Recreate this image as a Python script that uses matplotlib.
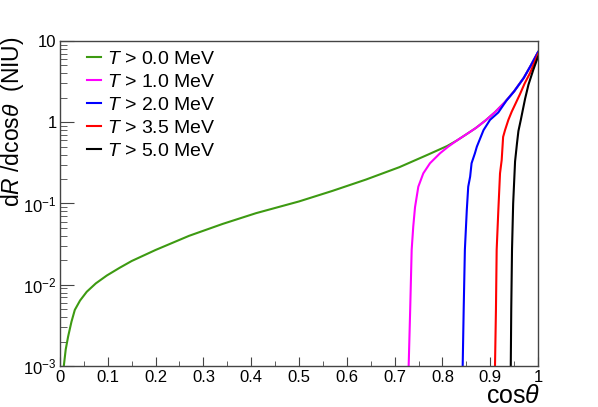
import numpy as np
import matplotlib
matplotlib.use('Agg')
import matplotlib.pyplot as plt
from matplotlib.ticker import LogLocator, FixedLocator, MultipleLocator, FuncFormatter

plt.rcParams['font.family'] = ['Liberation Sans', 'DejaVu Sans']
plt.rcParams['mathtext.fontset'] = 'custom'
plt.rcParams['mathtext.rm'] = 'Liberation Sans'
plt.rcParams['mathtext.it'] = 'Liberation Sans:italic'

# values (cos theta, dR/dcos theta)
green_x = [0.008, 0.012, 0.017, 0.024, 0.031, 0.042, 0.056, 0.075, 0.098, 0.125, 0.15,
           0.2, 0.27, 0.34, 0.41, 0.5, 0.57, 0.64, 0.71, 0.77, 0.81, 0.83, 0.85, 0.87,
           0.89, 0.91, 0.93, 0.95, 0.97, 0.985, 1.0]
green_y = [1e-3, 1.6e-3, 2.3e-3, 3.5e-3, 4.9e-3, 6.4e-3, 8.2e-3, 0.0104, 0.013, 0.0162,
           0.0196, 0.0268, 0.040, 0.056, 0.076, 0.106, 0.143, 0.197, 0.28, 0.40, 0.51,
           0.595, 0.71, 0.85, 1.05, 1.33, 1.75, 2.4, 3.5, 5.0, 7.3]

mag_x = [0.7294, 0.7326, 0.7357, 0.739, 0.7427, 0.7496, 0.76, 0.774, 0.795, 0.812, 0.83,
         0.85, 0.87, 0.89, 0.91, 0.93, 0.95, 0.97, 0.985, 1.0]
mag_y = [1e-3, 5e-3, 0.027, 0.052, 0.09, 0.161, 0.235, 0.313, 0.415, 0.50, 0.595,
         0.71, 0.85, 1.05, 1.33, 1.75, 2.4, 3.5, 5.0, 7.3]

blue_x = [0.8424, 0.8445, 0.847, 0.851, 0.854, 0.858, 0.861, 0.868, 0.872, 0.886, 0.8996,
          0.917, 0.934, 0.95, 0.97, 0.985, 1.0]
blue_y = [1e-3, 5e-3, 0.027, 0.083, 0.161, 0.214, 0.313, 0.415, 0.50, 0.80, 1.07,
          1.32, 1.85, 2.4, 3.5, 5.0, 7.3]

red_x = [0.910, 0.912, 0.9135, 0.917, 0.9205, 0.924, 0.927, 0.931, 0.938, 0.945, 0.952,
         0.962, 0.972, 0.983, 1.0]
red_y = [1e-3, 5e-3, 0.027, 0.083, 0.235, 0.343, 0.66, 0.80, 1.07, 1.35, 1.65,
         2.2, 3.0, 4.0, 6.9]

black_x = [0.943, 0.944, 0.9456, 0.948, 0.952, 0.956, 0.959, 0.964, 0.968, 0.973, 0.98,
           0.99, 1.0]
black_y = [1e-3, 5e-3, 0.027, 0.1, 0.33, 0.55, 0.78, 1.07, 1.4, 1.95, 2.9, 4.4, 6.4]

labels = ['$T$ > 0.0 MeV', '$T$ > 1.0 MeV', '$T$ > 2.0 MeV', '$T$ > 3.5 MeV', '$T$ > 5.0 MeV']
colors = ['#3d9a12', '#ff00ff', '#0000ff', '#ff0000', '#000000']

fig = plt.figure(figsize=(5.98, 4.07), dpi=100)
ax = fig.add_axes([0.1003, 0.1007, 0.7994, 0.7986])

series = [(green_x, green_y), (mag_x, mag_y), (blue_x, blue_y), (red_x, red_y), (black_x, black_y)]
for (xs, ys), lab, c in zip(series, labels, colors):
    ax.plot(xs, ys, color=c, lw=1.5, label=lab)

ax.set_yscale('log')
ax.set_xlim(0, 1)
ax.set_ylim(1e-3, 10)

ax.xaxis.set_major_locator(MultipleLocator(0.1))
ax.xaxis.set_minor_locator(MultipleLocator(0.05))
ax.xaxis.set_major_formatter(FuncFormatter(lambda v, p: '%g' % round(v, 2)))
ax.yaxis.set_major_locator(FixedLocator([1e-3, 1e-2, 1e-1, 1, 10]))
ax.yaxis.set_minor_locator(LogLocator(base=10, subs=np.arange(2, 10)))
ylab = {1e-3: r'$\mathregular{10^{-3}}$', 1e-2: r'$\mathregular{10^{-2}}$',
        1e-1: r'$\mathregular{10^{-1}}$', 1: '1', 10: '10'}
ax.yaxis.set_major_formatter(FuncFormatter(lambda v, p: ylab.get(min(ylab, key=lambda k: abs(np.log10(k) - np.log10(v))), '')))

ax.tick_params(axis='both', which='both', direction='in', top=False, right=False,
               color='#444444', labelsize=12)
ax.tick_params(axis='x', which='major', length=6.5, pad=3)
ax.tick_params(axis='x', which='minor', length=3.3)
ax.tick_params(axis='y', which='major', length=10, pad=2.5)
ax.tick_params(axis='y', which='minor', length=5)
for s in ax.spines.values():
    s.set_color('#444444')
    s.set_linewidth(1.0)

fig.text(540 / 598, 4 / 407, r'cos$\theta$', ha='right', va='baseline', fontsize=18)
fig.text(13 / 598, 1 - 36 / 407, r'd$R$ /dcos$\theta$  (NIU)', rotation=90,
         ha='center', va='top', fontsize=16.5)

ax.legend(loc='upper left', bbox_to_anchor=(0.145, 0.876), bbox_transform=fig.transFigure,
          frameon=False, fontsize=14, handlelength=0.75, handletextpad=0.3,
          labelspacing=0.28, borderpad=0, borderaxespad=0)

fig.savefig('out.png', dpi=100)
